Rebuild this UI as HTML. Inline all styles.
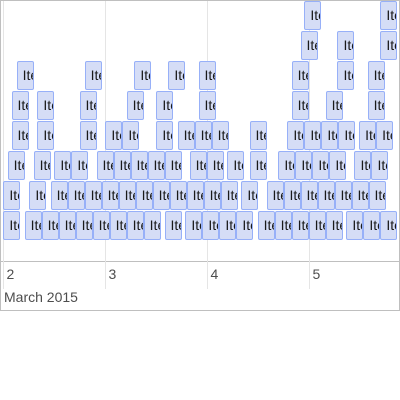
<!DOCTYPE html>
<html><head><meta charset="utf-8"><style>
body{margin:0;width:400px;height:400px;background:#fff;font-family:"Liberation Sans",sans-serif;overflow:hidden}
#tl{position:absolute;left:0;top:0;width:398px;height:309px;border:1px solid #bfbfbf;overflow:hidden}
.item{position:absolute;width:15px;height:27px;background:#d5ddf6;border:1px solid #97b0f8;border-radius:2px;overflow:hidden;font-size:14px;line-height:27px;color:#1a1a1a;white-space:nowrap}
.item span{position:absolute;left:5px}
.grid{position:absolute;top:0;width:1px;height:288px;background:#e5e5e5}
.lbl{position:absolute;top:265px;font-size:14px;color:#4d4d4d}
</style></head><body>
<div id="tl">
<div style="position:absolute;left:0;top:260px;width:400px;height:1px;background:#bfbfbf"></div>
<div style="position:absolute;left:3px;top:288px;font-size:14px;color:#4d4d4d">March 2015</div>
</div>
<script>
// item start times in hours since March 2 00:00, per stacking row (bottom first)
const row1=[0.1,5.1,9.1,13.1,17.1,21.1,25.1,29.1,33.1,38,42.9,46.9,50.9,54.9,59.9,63.9,67.9,71.9,75.9,80.8,84.8,88.8];
const row2=[0.1,6.2,11.2,15.2,19.2,23.2,27.2,31.2,35.2,39.2,43.2,47.2,51.2,56.1,62,66,70,74,78,82,86];
const row3=[1.1,7.2,12.1,16.1,22,26,30,34,38,43.9,47.9,52.8,58,64.8,68.8,72.8,76.8,82.7,86.7];
const row4=[2,8.1,18,24.1,28.1,36.1,41.1,45.1,49.1,58,66.9,70.9,74.9,78.9,83.8,87.8];
const row5=[2,8.1,18,29.1,36.1,46,67.9,75.9,85.8];
const row6=[3.2,19.2,30.9,38.9,46,67.9,78.7,85.8];
const row7=[70,78.7,88.8];
const row8=[70.9,88.8];
const rows=[row1,row2,row3,row4,row5,row6,row7,row8];
const dayTicks=[2,3,4,5];
const tl=document.getElementById('tl');
const x=h=>3.5+h*102/24;
const y=r=>210-r*30;
dayTicks.forEach((d,i)=>{
  const g=document.createElement('div');g.className='grid';g.style.left=(x((d-2)*24)-2)+'px';
  
  
  tl.appendChild(g);
  const l=document.createElement('div');l.className='lbl';l.textContent=d;l.style.left=(x((d-2)*24)+2)+'px';
  
  
  tl.appendChild(l);
});
rows.forEach((r,ri)=>r.forEach(h=>{
  const it=document.createElement('div');it.className='item';
  it.style.left=(x(h)-1.5)+'px';it.style.top=y(ri)+'px';
  it.innerHTML='<span>Item</span>';
  
  
  tl.appendChild(it);
}));
</script>
</body></html>
